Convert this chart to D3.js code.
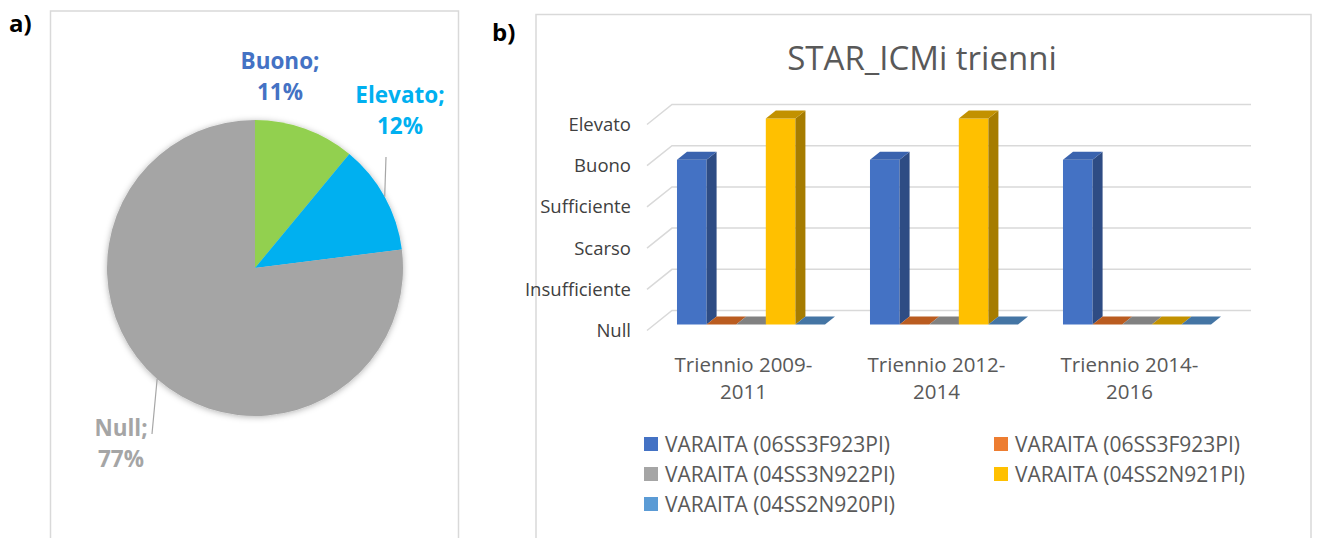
<!DOCTYPE html>
<meta charset="utf-8">
<script src="https://d3js.org/d3.v7.min.js"></script>
<style>
  body { margin: 0; background: #fff; }
  text { font-family: "Open Sans", sans-serif; }
</style>
<div id="chart"></div>
<script>
  // pie data (panel a)
  var pieLabels = ["Buono", "Elevato", "Null"];
  var pieValues = [11, 12, 77];
  var pieColors = ["#92D050", "#00B0F0", "#A5A5A5"];
  var pieTextColors = ["#4472C4", "#00B0F0", "#A5A5A5"];

  // bar data (panel b)
  var trienni = ["Triennio 2009-2011", "Triennio 2012-2014", "Triennio 2014-2016"];
  var levels = ["Null", "Insufficiente", "Scarso", "Sufficiente", "Buono", "Elevato"];
  var seriesNames = ["VARAITA (06SS3F923PI)", "VARAITA (06SS3F923PI)", "VARAITA (04SS3N922PI)",
                     "VARAITA (04SS2N921PI)", "VARAITA (04SS2N920PI)"];
  var blue06SS3F923PI   = [4, 4, 4];
  var orange06SS3F923PI = [0, 0, 0];
  var gray04SS3N922PI   = [0, 0, 0];
  var yellow04SS2N921PI = [5, 5, 0];
  var lblue04SS2N920PI  = [0, 0, 0];
  var seriesValues = [blue06SS3F923PI, orange06SS3F923PI, gray04SS3N922PI, yellow04SS2N921PI, lblue04SS2N920PI];

  // colours: front, side, top
  var barColors = [
    ["#4472C4", "#2E4C84", "#3A63AE"],
    ["#ED7D31", "#A85620", "#BA5C20"],
    ["#A5A5A5", "#727272", "#818181"],
    ["#FFC000", "#A67C00", "#C29100"],
    ["#5B9BD5", "#3D6E9E", "#4475A4"]
  ];

  var svg = d3.select("#chart").append("svg")
    .attr("width", 1319).attr("height", 538);

  var defs = svg.append("defs");
  defs.append("filter").attr("id", "shadow")
    .attr("x", "-20%").attr("y", "-20%").attr("width", "140%").attr("height", "140%")
    .append("feDropShadow")
      .attr("dx", 0).attr("dy", 1).attr("stdDeviation", 3)
      .attr("flood-color", "#000").attr("flood-opacity", 0.3);

  // panel frames
  svg.append("rect").attr("x", 50.5).attr("y", 11).attr("width", 408).attr("height", 560)
    .attr("fill", "none").attr("stroke", "#D9D9D9").attr("stroke-width", 1.5);
  svg.append("rect").attr("x", 536).attr("y", 14.5).attr("width", 775).attr("height", 560)
    .attr("fill", "none").attr("stroke", "#D9D9D9").attr("stroke-width", 1.5);

  svg.append("text").attr("x", 9).attr("y", 32).text("a)")
    .style("font-size", "24px").style("font-weight", "bold").attr("fill", "#000");
  svg.append("text").attr("x", 492).attr("y", 41).text("b)")
    .style("font-size", "24px").style("font-weight", "bold").attr("fill", "#000");

  // ---------- panel a: pie ----------
  var cx = 255, cy = 268, r = 148;
  var pie = d3.pie().sort(null).value(function(d) { return d; });
  var arcs = pie(pieValues);
  var arc = d3.arc().innerRadius(0).outerRadius(r);

  var gPie = svg.append("g").attr("transform", "translate(" + cx + "," + cy + ")");
  gPie.append("g").attr("filter", "url(#shadow)")
    .selectAll("path")
    .data(arcs)
    .enter().append("path")
      .attr("d", arc)
      .attr("fill", function(d, i) { return pieColors[i]; });

  // label layout (text positions relative to the pie centre)
  var labelPos = [
    {x: 25, y: -199, lead: null},
    {x: 145, y: -165, lead: {x: 131, y: -111}},
    {x: -134, y: 168, lead: {x: -103, y: 166}}
  ];
  arcs.forEach(function(d, i) {
    var lp = labelPos[i];
    var mid = (d.startAngle + d.endAngle) / 2;
    if (lp.lead) {
      gPie.append("line")
        .attr("x1", r * Math.sin(mid)).attr("y1", -r * Math.cos(mid))
        .attr("x2", lp.lead.x).attr("y2", lp.lead.y)
        .attr("stroke", "#A6A6A6").attr("stroke-width", 1.2);
    }
    var t = gPie.append("text")
      .attr("text-anchor", "middle")
      .attr("fill", pieTextColors[i])
      .style("font-size", "22.5px").style("font-weight", "bold");
    t.append("tspan").attr("x", lp.x).attr("y", lp.y).text(pieLabels[i] + ";");
    t.append("tspan").attr("x", lp.x).attr("y", lp.y + 31).text(d3.format(".0%")(pieValues[i] / d3.sum(pieValues)));
  });

  // ---------- panel b: 3D column chart ----------
  svg.append("text").attr("x", 922).attr("y", 70).attr("text-anchor", "middle")
    .text("STAR_ICMi trienni").style("font-size", "33px").attr("fill", "#595959");

  var depthX = 25, depthY = -20;       // full depth of the floor
  var zFront = 0.3, zBack = 0.7;       // bar depth inside the floor
  var y = d3.scaleLinear().domain([0, levels.length - 1]).range([330.5, 124.5]);
  var x0 = d3.scaleBand().domain(trienni).range([647, 1226]).paddingInner(0.233).paddingOuter(0.1165);
  var x1 = d3.scaleBand().domain(d3.range(seriesNames.length)).range([0, x0.bandwidth()]);

  function P(x, v, z) { return [x + depthX * z, y(v) + depthY * z]; }
  function poly(pts) { return "M" + pts.map(function(p) { return p.join(","); }).join("L") + "Z"; }

  var gGrid = svg.append("g").attr("stroke", "#D9D9D9").attr("stroke-width", 1.5).attr("fill", "none");
  levels.forEach(function(l, v) {
    var a = P(647, v, 0), b = P(647, v, 1), c = P(1226, v, 1);
    gGrid.append("path").attr("d", "M" + a + "L" + b + "L" + c);
  });

  svg.append("g").selectAll("text")
    .data(levels)
    .enter().append("text")
      .attr("x", 631).attr("y", function(d, i) { return y(i); })
      .attr("dy", "0.35em")
      .attr("text-anchor", "end")
      .style("font-size", "18.5px").attr("fill", "#404040")
      .text(function(d) { return d; });

  var gBars = svg.append("g");
  trienni.forEach(function(c, ci) {
    seriesValues.forEach(function(vals, si) {
      var v = vals[ci];
      var xl = x0(c) + x1(si), xr = xl + x1.bandwidth();
      var col = barColors[si];
      if (v > 0) {
        gBars.append("path")
          .attr("d", poly([P(xl, 0, zFront), P(xr, 0, zFront), P(xr, v, zFront), P(xl, v, zFront)]))
          .attr("fill", col[0]);
        gBars.append("path")
          .attr("d", poly([P(xr, 0, zFront), P(xr, 0, zBack), P(xr, v, zBack), P(xr, v, zFront)]))
          .attr("fill", col[1]);
      }
      gBars.append("path")
        .attr("d", poly([P(xl, v, zFront), P(xr, v, zFront), P(xr, v, zBack), P(xl, v, zBack)]))
        .attr("fill", col[2]);
    });
  });

  // category labels, wrapped after the hyphen
  var gCat = svg.append("g");
  trienni.forEach(function(c) {
    var parts = c.split("-");
    var t = gCat.append("text")
      .attr("text-anchor", "middle")
      .style("font-size", "20.5px").attr("fill", "#595959");
    var xc = x0(c) + x0.bandwidth() / 2;
    t.append("tspan").attr("x", xc).attr("y", 372).text(parts[0] + "-");
    t.append("tspan").attr("x", xc).attr("y", 399).text(parts[1]);
  });

  // legend
  var legend = svg.append("g").selectAll("g")
    .data(seriesNames)
    .enter().append("g")
      .attr("transform", function(d, i) {
        return "translate(" + (644 + (i % 2) * 350) + "," + (444 + Math.floor(i / 2) * 30) + ")";
      });
  legend.append("rect")
    .attr("x", 0).attr("y", -7).attr("width", 14).attr("height", 14)
    .attr("fill", function(d, i) { return barColors[i][0]; });
  legend.append("text")
    .attr("x", 21).attr("y", 0).attr("dy", "0.36em")
    .style("font-size", "21px").attr("fill", "#595959")
    .text(function(d) { return d; });
</script>
